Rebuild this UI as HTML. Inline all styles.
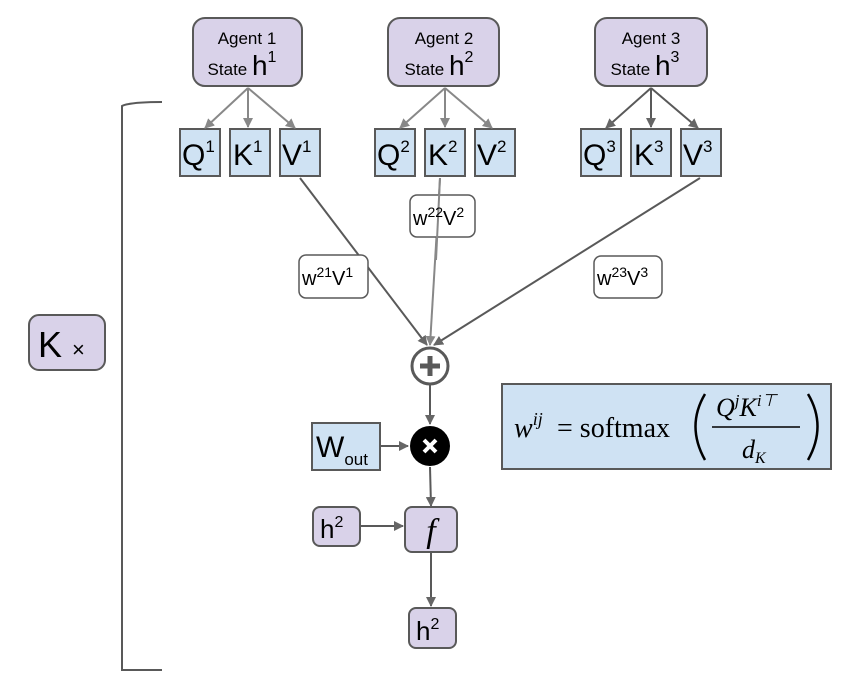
<!DOCTYPE html>
<html><head><meta charset="utf-8"><style>
body{margin:0;background:#fff;}
svg text{font-family:"Liberation Sans",sans-serif;}
</style></head><body>
<svg width="846" height="686" viewBox="0 0 846 686" xmlns="http://www.w3.org/2000/svg">
<defs>
<marker id="a" markerWidth="10" markerHeight="10" refX="9" refY="5" orient="auto" markerUnits="userSpaceOnUse"><path d="M0,0 L10,5 L0,10 z" fill="#666"/></marker>
<marker id="b" markerWidth="10" markerHeight="10" refX="9" refY="5" orient="auto" markerUnits="userSpaceOnUse"><path d="M0,0 L10,5 L0,10 z" fill="#888"/></marker>
</defs>
<g stroke="#595959" stroke-width="2" fill="#d9d2e9">
<rect x="193" y="18" width="109" height="68" rx="12"/>
<rect x="388" y="18" width="111" height="68" rx="12"/>
<rect x="595" y="18" width="112" height="68" rx="12"/>
<rect x="29" y="315" width="76" height="55" rx="10"/>
<rect x="405" y="507" width="52" height="45" rx="7"/>
<rect x="313" y="507" width="47" height="39" rx="7"/>
<rect x="409" y="608" width="47" height="40" rx="7"/>
</g>
<g stroke="#595959" stroke-width="2" fill="#cfe2f3">
<rect x="180" y="129" width="40" height="47"/><rect x="230" y="129" width="40" height="47"/><rect x="280" y="129" width="40" height="47"/>
<rect x="375" y="129" width="40" height="47"/><rect x="425" y="129" width="40" height="47"/><rect x="475" y="129" width="40" height="47"/>
<rect x="581" y="129" width="40" height="47"/><rect x="631" y="129" width="40" height="47"/><rect x="681" y="129" width="40" height="47"/>
<rect x="312" y="423" width="68" height="47"/>
<rect x="502" y="384" width="329" height="85"/>
</g>
<g stroke="#888" stroke-width="2" fill="none" marker-end="url(#b)">
<line x1="248" y1="88" x2="205" y2="128"/><line x1="248" y1="88" x2="248" y2="127"/><line x1="248" y1="88" x2="295" y2="128"/>
<line x1="445" y1="88" x2="400" y2="128"/><line x1="445" y1="88" x2="445" y2="127"/><line x1="445" y1="88" x2="492" y2="128"/>
<line x1="440" y1="178" x2="430" y2="345"/>
</g>
<g stroke="#595959" stroke-width="2" fill="none" marker-end="url(#a)">
<line x1="651" y1="88" x2="606" y2="128"/><line x1="651" y1="88" x2="651" y2="127"/><line x1="651" y1="88" x2="698" y2="128"/>
<line x1="300" y1="178" x2="427" y2="345"/>
<line x1="700" y1="178" x2="434" y2="345"/>
<line x1="430" y1="385" x2="430" y2="424"/>
<line x1="380" y1="446" x2="408" y2="446"/>
<line x1="430" y1="467" x2="431" y2="506"/>
<line x1="360" y1="526" x2="403" y2="526"/>
<line x1="431" y1="553" x2="431" y2="606"/>
</g>
<g stroke="#595959" stroke-width="1.5" fill="#fff">
<rect x="410" y="195" width="65" height="42" rx="7"/>
<rect x="299" y="255" width="69" height="43" rx="7"/>
<rect x="594" y="256" width="68" height="42" rx="7"/>
</g>
<line x1="440" y1="178" x2="436" y2="260" stroke="#888" stroke-width="2"/>
<path d="M162,102 Q130,102 122,106 L122,670 L162,670" fill="none" stroke="#595959" stroke-width="2"/>
<circle cx="430" cy="366" r="18" fill="#fff" stroke="#595959" stroke-width="3"/>
<path d="M420,366 H440 M430,356 V376" stroke="#595959" stroke-width="5"/>
<circle cx="430" cy="446" r="20" fill="#000"/>
<path d="M424,440 L436,452 M436,440 L424,452" stroke="#fff" stroke-width="4"/>
<g fill="#000" font-size="17" text-anchor="middle">
<text x="247" y="44">Agent 1</text><text x="444" y="44">Agent 2</text><text x="651" y="44">Agent 3</text>
<text x="242" y="75">State <tspan font-size="28">h</tspan><tspan font-size="16" dy="-13">1</tspan></text>
<text x="439" y="75">State <tspan font-size="28">h</tspan><tspan font-size="16" dy="-13">2</tspan></text>
<text x="645" y="75">State <tspan font-size="28">h</tspan><tspan font-size="16" dy="-13">3</tspan></text>
</g>
<g font-size="30" fill="#000">
<text x="182" y="165">Q<tspan font-size="17" dy="-13">1</tspan></text>
<text x="233" y="165">K<tspan font-size="17" dy="-13">1</tspan></text>
<text x="282" y="165">V<tspan font-size="17" dy="-13">1</tspan></text>
<text x="377" y="165">Q<tspan font-size="17" dy="-13">2</tspan></text>
<text x="428" y="165">K<tspan font-size="17" dy="-13">2</tspan></text>
<text x="477" y="165">V<tspan font-size="17" dy="-13">2</tspan></text>
<text x="583" y="165">Q<tspan font-size="17" dy="-13">3</tspan></text>
<text x="634" y="165">K<tspan font-size="17" dy="-13">3</tspan></text>
<text x="683" y="165">V<tspan font-size="17" dy="-13">3</tspan></text>
<text x="38" y="357" font-size="36">K <tspan font-size="22">×</tspan></text>
<text x="316" y="457" font-size="30">W<tspan font-size="17" dy="8">out</tspan></text>
<text x="320" y="538" font-size="26">h<tspan font-size="16" dy="-11">2</tspan></text>
<text x="416" y="640" font-size="26">h<tspan font-size="16" dy="-11">2</tspan></text>
<text x="431" y="542" font-size="34" font-style="italic" style="font-family:'Liberation Serif',serif" text-anchor="middle">f</text>
</g>
<g font-size="20" fill="#000">
<text x="413" y="225">w<tspan font-size="14" dy="-8">22</tspan><tspan dy="8">V</tspan><tspan font-size="14" dy="-8">2</tspan></text>
<text x="302" y="285">w<tspan font-size="14" dy="-8">21</tspan><tspan dy="8">V</tspan><tspan font-size="14" dy="-8">1</tspan></text>
<text x="597" y="285">w<tspan font-size="14" dy="-8">23</tspan><tspan dy="8">V</tspan><tspan font-size="14" dy="-8">3</tspan></text>
</g>
<g fill="#000">
<text x="514" y="437" font-size="28" font-style="italic" style="font-family:'Liberation Serif',serif">w<tspan font-size="18" dy="-12">ij</tspan></text>
<text x="557" y="437" font-size="28" style="font-family:'Liberation Serif',serif">= softmax</text>
<path d="M705,394 Q686,426 705,460" fill="none" stroke="#000" stroke-width="2.5"/>
<path d="M808,394 Q827,426 808,460" fill="none" stroke="#000" stroke-width="2.5"/>
<text x="716" y="416" font-size="26" font-style="italic" style="font-family:'Liberation Serif',serif">Q<tspan font-size="17" dy="-10">j</tspan><tspan dy="10">K</tspan><tspan font-size="17" dy="-10">i⊤</tspan></text>
<line x1="712" y1="427" x2="800" y2="427" stroke="#000" stroke-width="1.5"/>
<text x="742" y="458" font-size="26" font-style="italic" style="font-family:'Liberation Serif',serif">d<tspan font-size="16" dy="5">K</tspan></text>
</g>
</svg>
</body></html>
